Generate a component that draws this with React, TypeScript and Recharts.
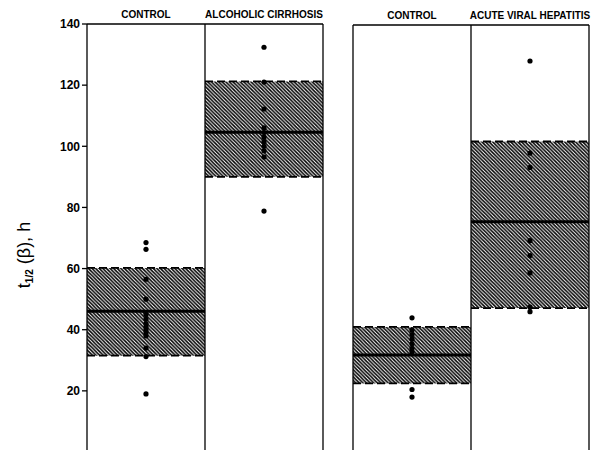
import {
    ComposedChart,
    XAxis,
    YAxis,
    Scatter,
    ReferenceArea,
    ReferenceLine,
} from 'recharts';

// groups: two panels, two columns each
const leftGroups = ['CONTROL', 'ALCOHOLIC CIRRHOSIS'];
const rightGroups = ['CONTROL', 'ACUTE VIRAL HEPATITIS'];

// box edges (dashed) and median (solid), in hours
const leftLow = [31.5, 90];
const leftHigh = [60.2, 121.2];
const leftMedian = [46, 104.6];
const rightLow = [22.5, 47.2];
const rightHigh = [41, 101.8];
const rightMedian = [31.8, 75.5];

// individual subjects
const controlA = [68.5, 66.3, 56.5, 50, 45, 43.5, 42, 41, 40, 39, 38, 34, 31.2, 19];
const cirrhosis = [132.4, 121, 112.2, 106, 104.5, 103, 101.5, 100, 98.5, 96.5, 78.8];
const controlB = [44, 40, 38.5, 37, 35.5, 34, 32.8, 20.5, 18];
const hepatitis = [128.2, 98, 93.3, 69.3, 64.4, 58.7, 47.5, 46];

const yTicks = [20, 40, 60, 80, 100, 120, 140];

const toPoints = (vals: number[], x: number) => vals.map((y) => ({ x, y }));

const Dot = (props: any) => <circle cx={props.cx} cy={props.cy} r={2.6} fill='#000' />;

const headerFont = {
    fontFamily: '"Liberation Sans", Arial, sans-serif',
    fontWeight: 700,
    fontSize: 10,
    fill: '#000',
};

const AxisTitle = (props: any) => {
    const { viewBox } = props;
    const x = 24;
    const y = viewBox.y + 231;
    return (
        <text
            transform={`rotate(-90, ${x}, ${y})`}
            x={x}
            y={y}
            textAnchor='middle'
            dominantBaseline='central'
            style={{ fontFamily: '"Liberation Sans", Arial, sans-serif', fontSize: 18, fill: '#000' }}
        >
            t
            <tspan fontSize={10} fontWeight={700} dy={5}>1/2</tspan>
            <tspan dy={-5}> (β), h</tspan>
        </text>
    );
};

function Panel({ groups, low, high, median, dots, showAxis }: any) {
    return (
        <>
            <XAxis
                xAxisId={0}
                type='number'
                dataKey='x'
                domain={[0, 2]}
                orientation='top'
                ticks={[0.5, 1.5]}
                tickFormatter={(v) => groups[Math.floor(v)]}
                axisLine={false}
                tickLine={false}
                tickSize={0}
                tickMargin={6}
                height={20}
                tick={headerFont}
                interval={0}
            />
            <YAxis
                type='number'
                domain={[0, 140]}
                ticks={yTicks}
                hide={!showAxis}
                width={87}
                axisLine={false}
                tickSize={5}
                tickMargin={2}
                tickLine={{ stroke: '#000', strokeWidth: 1.3 }}
                tick={{ fontFamily: '"Liberation Sans", Arial, sans-serif', fontWeight: 700, fontSize: 12, fill: '#000' }}
                label={showAxis ? { content: <AxisTitle /> } : undefined}
            />
            {groups.map((g: string, i: number) => (
                <ReferenceArea
                    key={`box-${g}-${i}`}
                    x1={i}
                    x2={i + 1}
                    y1={low[i]}
                    y2={high[i]}
                    fill='url(#hatch)'
                    fillOpacity={1}
                    stroke='none'
                />
            ))}
            {groups.map((g: string, i: number) => (
                <ReferenceLine
                    key={`lo-${g}-${i}`}
                    segment={[{ x: i, y: low[i] }, { x: i + 1, y: low[i] }]}
                    stroke='#000'
                    strokeWidth={1.8}
                    strokeDasharray='8 4'
                />
            ))}
            {groups.map((g: string, i: number) => (
                <ReferenceLine
                    key={`hi-${g}-${i}`}
                    segment={[{ x: i, y: high[i] }, { x: i + 1, y: high[i] }]}
                    stroke='#000'
                    strokeWidth={1.8}
                    strokeDasharray='8 4'
                />
            ))}
            {groups.map((g: string, i: number) => (
                <ReferenceLine
                    key={`md-${g}-${i}`}
                    segment={[{ x: i, y: median[i] }, { x: i + 1, y: median[i] }]}
                    stroke='#000'
                    strokeWidth={3}
                />
            ))}
            {[0, 1, 2].map((x) => (
                <ReferenceLine key={`v-${x}`} x={x} stroke='#000' strokeWidth={1.3} />
            ))}
            <ReferenceLine y={140} stroke='#000' strokeWidth={1.3} />
            {dots.map((d: number[], i: number) => (
                <Scatter
                    key={`dots-${i}`}
                    data={toPoints(d, i + 0.5)}
                    dataKey='y'
                    shape={<Dot />}
                    isAnimationActive={false}
                />
            ))}
        </>
    );
}

const Hatch = () => (
    <defs>
        <pattern id='hatch' patternUnits='userSpaceOnUse' width={3.6} height={3.6}>
            <rect width={3.6} height={3.6} fill='#fff' />
            <path d='M-1,-1 L4.6,4.6 M2.6,-1 L4.6,1 M-1,2.6 L1,4.6' stroke='#000' strokeWidth={1.5} />
        </pattern>
    </defs>
);

export default function App() {
    return (
        <div style={{ position: 'absolute', left: 0, top: 0, width: 600, height: 450, overflow: 'hidden', background: '#fff' }}>
            <div style={{ position: 'absolute', left: 0, top: 0 }}>
                <ComposedChart width={330} height={455} margin={{ top: 4, right: 7, bottom: 3, left: 0 }}>
                    <Hatch />
                    {Panel({
                        groups: leftGroups,
                        low: leftLow,
                        high: leftHigh,
                        median: leftMedian,
                        dots: [controlA, cirrhosis],
                        showAxis: true,
                    })}
                </ComposedChart>
            </div>
            <div style={{ position: 'absolute', left: 340, top: 0 }}>
                <ComposedChart width={260} height={455} margin={{ top: 5, right: 11, bottom: 3, left: 13 }}>
                    <Hatch />
                    {Panel({
                        groups: rightGroups,
                        low: rightLow,
                        high: rightHigh,
                        median: rightMedian,
                        dots: [controlB, hepatitis],
                        showAxis: false,
                    })}
                </ComposedChart>
            </div>
        </div>
    );
}
